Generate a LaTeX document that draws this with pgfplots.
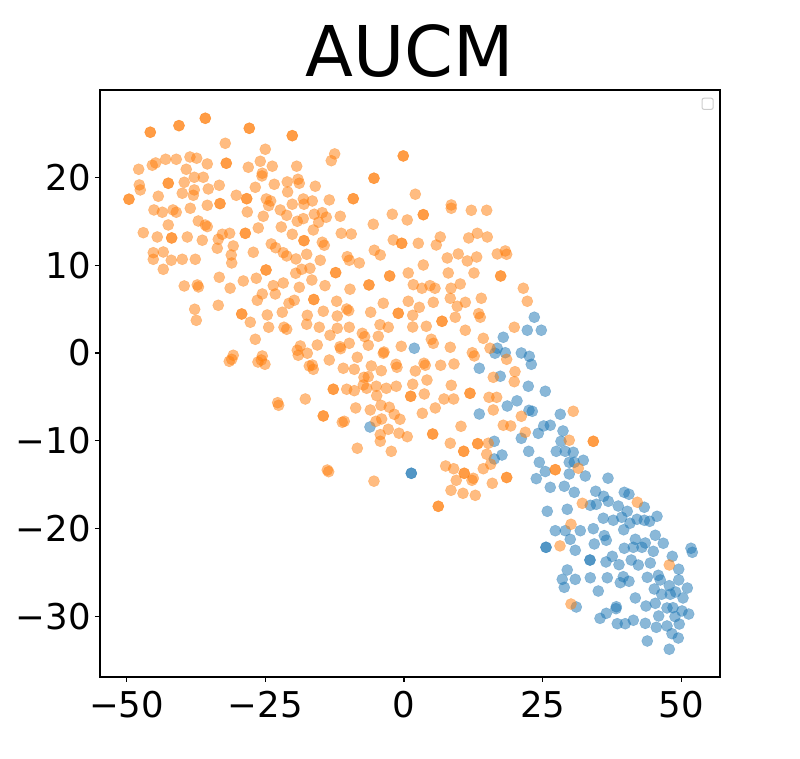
\documentclass[border=0pt]{standalone}
\usepackage{fontspec}
\setmainfont{DejaVu Sans}
\usepackage{pgfplots}
\pgfplotsset{compat=1.18}
\definecolor{mplorange}{HTML}{FF7F0E}
\definecolor{mplblue}{HTML}{1F77B4}
\begin{document}
\begin{tikzpicture}
\useasboundingbox (-100pt,-82pt) rectangle (700pt,677pt);
\begin{axis}[
  at={(0pt,0pt)}, anchor=south west,
  width=620pt, height=587pt, scale only axis,
  xmin=-54.77, xmax=56.94, ymin=-36.90, ymax=29.95,
  xtick={-50,-25,0,25,50}, xticklabels={−50,−25,0,25,50},
  ytick={-30,-20,-10,0,10,20}, yticklabels={−30,−20,−10,0,10,20},
  tick pos=left, tick align=outside, major tick length=5pt,
  every tick/.style={black, line width=1.1pt},
  axis line style={line width=1.1pt},
  ticklabel style={font=\fontsize{35.5}{36}\selectfont},
  xticklabel style={inner sep=0pt, yshift=-9pt},
  yticklabel style={inner sep=0pt, xshift=-4pt},
  title={AUCM},
  title style={font=\fontsize{70}{70}\selectfont, anchor=base, at={(0.5,1)}, yshift=7pt},
]
\addplot[only marks, mark=*, mark size=5.6pt, color=mplblue, mark options={draw=mplblue, fill=mplblue, fill opacity=0.52, draw opacity=0.3, line width=0.5pt}] table {
x y
17.89 1.79
1.86 0.54
16.81 0.54
16.40 -0.03
18.25 0.03
21.14 0.00
13.57 -1.74
17.35 -2.65
20.36 -5.45
18.61 -6.04
13.57 -6.95
-6.13 -8.43
16.27 -10.06
16.27 -12.07
17.66 -11.62
1.32 -13.70
1.32 -13.70
23.48 4.07
22.22 2.59
24.74 2.59
22.58 -0.38
22.94 -1.29
22.40 -3.79
25.46 -4.36
22.52 -6.53
23.12 -6.64
28.16 -6.98
25.17 -8.31
26.36 -8.23
28.65 -8.88
24.20 -9.15
21.14 -9.72
28.29 -10.06
22.47 -11.20
27.44 -11.20
29.06 -11.20
30.50 -11.31
32.31 -12.22
24.38 -12.45
29.78 -12.45
30.68 -12.45
25.46 -13.50
29.78 -13.78
32.67 -14.01
36.76 -14.26
23.84 -14.31
26.36 -15.30
28.88 -15.18
30.68 -15.87
34.54 -15.75
35.98 -16.32
36.81 -16.89
39.69 -15.87
40.54 -16.09
33.57 -17.35
34.65 -17.23
38.61 -17.43
40.23 -18.03
43.30 -17.57
25.82 -18.03
29.42 -17.80
35.91 -18.82
37.71 -19.05
39.23 -18.71
40.72 -19.39
41.98 -18.94
43.30 -19.05
44.27 -19.17
45.59 -18.60
27.26 -20.24
29.06 -20.24
31.77 -20.24
34.11 -20.01
39.59 -20.13
29.96 -21.22
36.09 -20.80
36.45 -21.33
45.28 -20.76
46.72 -21.67
41.68 -21.22
43.48 -21.64
25.59 -22.13
25.59 -22.13
30.86 -22.47
34.29 -21.75
39.69 -22.24
41.32 -22.13
42.88 -22.13
44.92 -22.59
51.71 -22.24
51.95 -22.70
33.51 -23.58
33.51 -23.58
37.53 -23.16
36.40 -23.80
38.74 -24.11
40.95 -23.58
42.22 -24.15
44.38 -23.92
48.34 -23.16
49.50 -24.63
29.42 -24.71
28.52 -25.78
28.88 -26.69
30.86 -25.78
33.57 -25.60
36.63 -25.60
39.51 -25.48
38.97 -26.16
40.54 -26.00
43.84 -25.55
45.82 -25.32
46.18 -25.85
49.50 -25.85
35.01 -27.11
45.10 -26.88
46.43 -27.48
47.80 -26.50
47.98 -27.48
48.95 -27.22
51.05 -26.77
50.27 -27.90
41.68 -27.90
31.05 -28.93
38.25 -28.90
38.20 -29.12
36.45 -29.65
35.32 -30.22
43.60 -28.82
45.28 -28.51
47.39 -29.04
48.47 -29.01
50.09 -29.38
51.30 -29.73
48.83 -30.03
45.89 -29.95
38.43 -30.83
39.87 -30.83
41.32 -30.44
43.48 -30.79
45.46 -31.24
47.39 -31.09
49.60 -30.87
48.29 -31.97
49.42 -32.46
43.84 -32.80
47.80 -33.74
};
\addplot[only marks, mark=*, mark size=5.6pt, color=mplorange, mark options={draw=mplorange, fill=mplorange, fill opacity=0.52, draw opacity=0.3, line width=0.5pt}] table {
x y
-45.71 25.14
-45.71 25.14
-40.54 25.89
-40.54 25.89
-35.80 26.73
-35.80 26.73
-27.87 25.59
-27.87 25.59
-20.13 24.75
-20.13 24.75
-32.20 23.88
-24.99 23.20
-47.80 20.92
-45.35 21.38
-44.74 21.64
-42.94 22.06
-41.03 22.06
-38.56 22.32
-37.35 22.18
-39.23 20.92
-35.44 21.53
-32.02 21.61
-32.02 21.61
-28.05 21.15
-25.89 21.83
-23.73 21.27
-25.53 20.47
-25.59 20.16
-19.33 21.27
-47.69 19.14
-47.51 18.57
-49.55 17.51
-49.55 17.51
-42.47 19.33
-42.47 19.33
-39.59 19.44
-37.78 20.01
-36.16 20.01
-37.78 18.57
-37.96 17.96
-39.95 18.19
-35.26 18.68
-33.28 19.10
-33.15 17.01
-33.15 17.01
-44.27 17.85
-45.05 16.29
-43.55 16.03
-41.62 16.29
-41.03 16.03
-38.50 16.48
-35.44 16.82
-30.22 17.96
-28.34 17.57
-28.34 17.57
-26.79 18.87
-23.37 19.21
-21.03 19.48
-19.10 19.78
-18.86 19.33
-24.81 17.54
-24.02 17.31
-24.38 16.78
-20.96 18.34
-20.13 16.94
-18.14 17.54
-18.02 16.94
-28.23 16.06
-25.35 15.57
-22.29 16.29
-21.13 15.68
-19.23 15.00
-18.14 15.30
-42.47 14.58
-37.06 15.03
-35.80 14.58
-35.44 14.39
-46.97 13.70
-44.45 13.21
-41.86 13.10
-41.86 13.10
-39.04 13.21
-36.34 12.84
-33.46 12.95
-32.74 13.52
-31.41 13.63
-28.59 13.63
-28.59 13.63
-26.25 14.24
-22.11 14.35
-20.13 13.52
-18.02 12.79
-18.02 12.79
-30.76 12.19
-33.64 11.93
-31.12 11.16
-31.04 10.25
-45.17 11.42
-45.17 10.67
-43.37 11.50
-41.93 10.56
-39.95 10.67
-37.60 10.67
-43.37 9.53
-27.15 11.47
-23.91 12.42
-23.12 11.99
-21.75 11.42
-21.13 11.05
-19.46 10.71
-17.53 11.24
-24.86 9.45
-24.86 9.45
-18.43 9.53
-19.51 9.08
-33.28 8.62
-28.95 8.20
-26.61 8.51
-39.59 7.63
-37.24 7.75
-37.03 7.52
-31.32 7.38
-23.55 7.67
-21.75 7.97
-18.86 7.48
-16.60 8.31
-25.53 6.72
-23.19 6.72
-26.43 6.00
-20.72 5.66
-19.77 6.00
-37.71 4.98
-37.42 3.72
-33.46 5.43
-29.24 4.44
-29.24 4.44
-27.69 3.50
-24.63 4.33
-24.38 2.93
-21.93 4.64
-21.62 2.93
-21.13 2.70
-17.42 4.29
-17.53 3.27
-26.79 1.56
-30.76 -0.26
-31.04 -0.72
-31.48 -0.95
-25.53 -0.34
-25.71 -0.80
-26.31 -1.03
-25.05 -1.29
-18.68 0.80
-19.23 0.31
-19.05 -0.26
-17.42 -0.03
-17.06 -1.48
-22.76 -5.66
-22.58 -5.96
-17.78 -5.24
-12.49 22.67
-13.10 21.90
-0.13 22.44
-0.13 22.44
-5.41 19.90
-5.41 19.90
-15.98 18.99
-16.52 17.31
-13.46 17.43
-9.14 17.57
-9.14 17.57
2.04 18.08
8.52 16.86
8.52 16.48
12.13 16.25
14.90 16.25
-2.11 15.80
0.59 15.15
3.48 15.75
3.48 15.75
-16.16 15.80
-14.72 15.98
-14.00 15.46
-15.37 14.89
-11.48 15.57
-16.34 14.01
-5.53 14.66
-11.30 13.63
-9.50 13.55
-14.72 12.61
-14.36 12.27
-1.93 12.87
-0.41 12.49
-0.41 12.49
2.58 12.49
6.54 13.21
5.82 12.30
11.66 13.10
13.21 13.63
15.01 13.21
-15.08 10.56
-16.94 9.64
-10.22 10.97
-9.86 10.56
-8.05 10.25
-5.35 11.70
-4.27 11.16
3.48 10.02
7.80 10.82
9.78 11.28
11.41 10.48
13.10 10.93
16.81 11.28
18.25 11.62
18.50 11.24
-12.31 9.15
-12.31 9.15
-2.58 8.77
-2.58 8.77
0.77 9.11
7.98 9.11
12.61 9.11
17.42 8.77
17.42 8.77
-14.23 7.67
-9.73 7.26
-6.31 7.75
-6.31 7.75
1.68 7.78
3.24 7.37
4.68 7.67
5.59 7.37
8.47 7.37
10.14 7.86
21.50 7.37
-16.25 6.09
-16.25 6.09
-12.13 5.89
-10.32 5.01
-9.96 4.82
-3.73 5.66
0.77 5.89
2.76 5.20
5.28 5.77
8.34 6.23
9.60 5.32
11.05 5.77
13.93 6.23
-14.54 4.75
-12.02 4.21
-6.00 4.64
-1.03 4.52
-1.03 4.52
1.57 4.29
-15.26 2.93
-12.02 2.81
-9.86 2.93
-4.32 3.22
-2.83 2.93
1.57 2.96
4.02 3.04
6.85 3.61
6.85 3.61
9.24 4.07
13.46 4.48
13.75 4.07
11.05 2.59
19.87 2.93
-13.33 2.02
-7.51 2.24
-7.08 1.86
-4.63 1.90
4.92 1.56
5.28 1.10
14.29 1.67
-15.62 0.91
-11.53 0.72
-11.41 0.49
-9.86 1.10
-6.43 0.88
-0.49 0.76
8.34 0.65
15.50 0.54
12.31 0.03
12.67 -0.34
18.50 -0.72
-16.52 -1.37
-16.34 -1.86
-13.46 -0.80
-10.94 -1.74
-8.95 -1.86
-8.41 -0.49
-5.89 -1.48
-4.09 -2.02
-3.60 0.11
-3.73 -0.03
-1.44 -1.29
-1.26 -1.63
2.04 -2.05
3.60 -1.17
3.84 -1.40
6.61 -1.40
9.01 -1.25
16.09 -2.77
20.00 -2.13
19.87 -3.27
-12.74 -4.13
-12.74 -4.13
-10.32 -4.13
-8.95 -4.29
-7.21 -2.77
-6.43 -2.70
-7.33 -3.64
-6.72 -4.02
-4.99 -3.79
-3.19 -4.02
-4.92 -4.86
-1.39 -3.79
1.57 -3.56
4.14 -3.08
1.21 -4.93
1.21 -4.93
3.66 -4.67
8.52 -3.68
7.21 -5.24
8.95 -5.24
11.89 -4.59
11.89 -4.59
15.32 -5.05
16.70 -5.05
16.09 -6.49
-14.54 -7.17
-14.54 -7.17
-11.12 -7.89
-10.76 -7.78
-8.70 -6.26
-6.07 -6.49
-4.14 -5.96
-2.65 -6.18
-1.75 -6.98
-0.72 -7.55
-5.05 -7.78
-4.02 -7.52
-2.83 -8.69
-4.27 -9.30
-4.27 -10.05
-0.90 -9.14
0.59 -9.53
3.30 -6.87
5.64 -6.26
5.17 -9.23
5.17 -9.23
17.89 -8.23
19.23 -8.31
10.27 -8.35
-8.41 -10.85
-2.29 -11.20
8.34 -10.28
10.76 -11.20
10.76 -11.20
13.28 -10.33
13.28 -10.33
15.19 -10.28
14.90 -11.53
15.62 -12.67
14.29 -13.18
7.51 -12.87
8.95 -13.18
10.86 -13.70
10.86 -13.70
12.49 -14.27
18.50 -14.18
18.50 -14.18
-13.82 -13.33
-13.57 -13.52
-5.41 -14.60
9.42 -14.50
12.25 -14.50
8.47 -15.64
10.63 -15.98
12.85 -16.21
15.91 -14.84
6.18 -17.46
6.18 -17.46
22.22 5.89
21.14 -7.21
30.50 -6.64
21.86 -9.03
29.78 -9.94
34.11 -10.06
34.11 -10.06
31.41 -13.13
27.26 -13.29
27.26 -13.29
32.13 -17.12
42.04 -17.00
30.09 -19.51
28.11 -21.97
47.80 -24.14
30.09 -28.59
};
\draw[rounded corners=2pt, draw=black!20, line width=1pt] (rel axis cs:0.971,0.967) rectangle (rel axis cs:0.989,0.986);
\end{axis}
\end{tikzpicture}
\end{document}
